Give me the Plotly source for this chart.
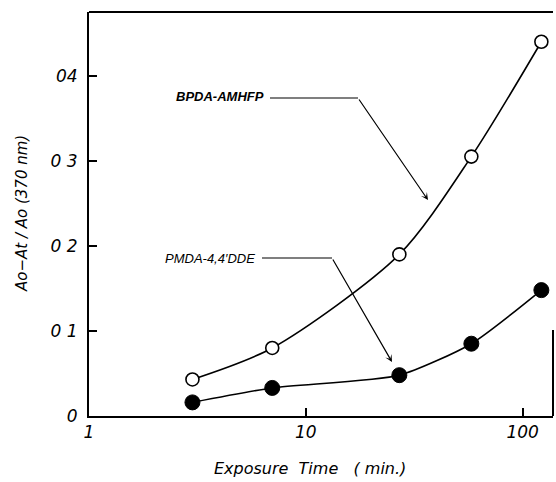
import plotly.graph_objects as go

# Data
exposure_min = [3, 7, 27, 58, 122]
bpda_amhfp = [0.043, 0.080, 0.190, 0.305, 0.440]
pmda_dde = [0.016, 0.033, 0.048, 0.085, 0.148]

x_tick_vals = [1, 10, 100]
x_tick_text = ["1", "10", "100"]
y_tick_vals = [0, 0.1, 0.2, 0.3, 0.4]
y_tick_text = ["0", "0 1", "0 2", "0 3", "04"]

FONT = "DejaVu Sans"
W, H = 556, 482
L, R, T, B = 89, 3, 12, 66
pw, ph = W - L - R, H - T - B

def px(X):
    return (X - L) / pw

def py(Y):
    return (H - B - Y) / ph

fig = go.Figure()

fig.add_trace(go.Scatter(
    x=exposure_min, y=bpda_amhfp, mode="lines+markers",
    line=dict(color="black", width=1.6, shape="spline", smoothing=0.8),
    marker=dict(symbol="circle", size=13, color="white",
                line=dict(color="black", width=1.6)),
    showlegend=False, cliponaxis=False))

fig.add_trace(go.Scatter(
    x=exposure_min, y=pmda_dde, mode="lines+markers",
    line=dict(color="black", width=1.6, shape="spline", smoothing=0.6),
    marker=dict(symbol="circle", size=15, color="black",
                line=dict(color="black", width=1)),
    showlegend=False, cliponaxis=False))

tickfont = dict(family=FONT, size=17, color="black", style="italic")

fig.update_xaxes(
    type="log", range=[0, 2.14],
    tickvals=x_tick_vals, ticktext=x_tick_text,
    ticks="inside", ticklen=8, tickwidth=2, tickcolor="black",
    tickfont=tickfont,
    showline=True, linecolor="black", linewidth=2, mirror=False,
    showgrid=False, zeroline=False)

fig.update_yaxes(
    range=[0, 0.475],
    tickvals=y_tick_vals, ticktext=y_tick_text,
    ticks="inside", ticklen=8, tickwidth=2, tickcolor="black",
    tickfont=tickfont, ticklabelstandoff=6,
    showline=True, linecolor="black", linewidth=2,
    showgrid=False, zeroline=False)

shapes = []
shapes.append(dict(type="line", xref="paper", yref="paper", x0=0, x1=1, y0=1, y1=1,
                   line=dict(color="black", width=2)))
shapes.append(dict(type="line", xref="paper", yref="paper", x0=1, x1=1, y0=0, y1=py(330),
                   line=dict(color="black", width=2)))
shapes.append(dict(type="line", xref="paper", yref="paper", x0=px(270), x1=px(358), y0=py(98), y1=py(98),
                   line=dict(color="black", width=1.2)))
shapes.append(dict(type="line", xref="paper", yref="paper", x0=px(262), x1=px(332), y0=py(258), y1=py(258),
                   line=dict(color="black", width=1.2)))

annotations = [
    dict(text="<b>BPDA-AMHFP</b>", xref="paper", yref="paper", x=px(266), y=py(97),
         xanchor="right", yanchor="middle", showarrow=False,
         font=dict(family="Liberation Sans", size=13, color="black", style="italic")),
    dict(text="PMDA-4,4\u2032DDE", xref="paper", yref="paper", x=px(257), y=py(258),
         xanchor="right", yanchor="middle", showarrow=False,
         font=dict(family="Liberation Sans", size=13, color="black", style="italic")),
    dict(text="", xref="paper", yref="paper", x=px(428), y=py(200),
         ax=358 - 428, ay=98 - 200, showarrow=True, arrowhead=3, arrowsize=1,
         arrowwidth=1.2, arrowcolor="black", standoff=0, startstandoff=0),
    dict(text="", xref="paper", yref="paper", x=px(392), y=py(362),
         ax=332 - 392, ay=258 - 362, showarrow=True, arrowhead=3, arrowsize=1,
         arrowwidth=1.2, arrowcolor="black", standoff=0, startstandoff=0),
    dict(text="Exposure  Time   ( min.)", xref="paper", yref="paper",
         x=px(310), y=py(468), xanchor="center", yanchor="middle", showarrow=False,
         font=dict(family=FONT, size=16, color="black", style="italic")),
    dict(text="Ao\u2212At / Ao (370 nm)", xref="paper", yref="paper",
         x=px(22), y=py(214), xanchor="center", yanchor="middle", showarrow=False,
         textangle=-90,
         font=dict(family=FONT, size=15, color="black", style="italic")),
]

fig.update_layout(
    width=W, height=H,
    margin=dict(l=L, r=R, t=T, b=B, pad=0),
    plot_bgcolor="white", paper_bgcolor="white",
    shapes=shapes, annotations=annotations,
    showlegend=False)

fig.write_html("out.html")
